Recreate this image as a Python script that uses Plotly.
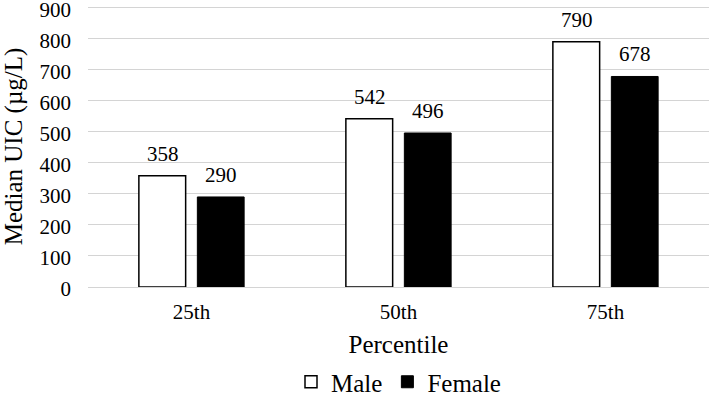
import plotly.graph_objects as go

categories = ["25th", "50th", "75th"]
male = [358, 542, 790]
female = [290, 496, 678]
y_ticks = [0, 100, 200, 300, 400, 500, 600, 700, 800, 900]

FONT = "Liberation Serif"

fig = go.Figure()
fig.add_trace(go.Bar(
    x=categories, y=male, name="Male",
    marker=dict(color="white", line=dict(color="black", width=1.5)),
))
fig.add_trace(go.Bar(
    x=categories, y=female, name="Female",
    marker=dict(color="black", line=dict(color="black", width=1)),
))

# value labels above bars
for series, shift in ((male, -29), (female, 29)):
    for c, v in zip(categories, series):
        fig.add_annotation(x=c, y=v, xref="x", yref="y", text=str(v), showarrow=False,
                           xshift=shift, yshift=8, yanchor="bottom",
                           font=dict(family=FONT, size=21, color="black"))

fig.update_layout(
    width=709, height=405,
    margin=dict(l=88, r=0, t=5.5, b=118, autoexpand=False),
    paper_bgcolor="white", plot_bgcolor="white",
    font=dict(family=FONT, size=21, color="black"),
    barmode="group", bargap=0.435, bargroupgap=0.2,
    showlegend=True,
    legend=dict(orientation="h", x=0.5, xanchor="center", yref="container", y=0, yanchor="bottom",
                font=dict(family=FONT, size=25, color="black"),
                itemwidth=30, tracegroupgap=0, traceorder="normal"),
)
fig.update_xaxes(
    showgrid=False, showline=False, ticks="", ticklabelstandoff=10, automargin=False,
    tickfont=dict(family=FONT, size=21, color="black"),
    title=dict(text="Percentile", font=dict(family=FONT, size=25, color="black"), standoff=12),
)
fig.update_yaxes(
    range=[0, 905], tickvals=y_ticks, showgrid=True, gridcolor="#d4d4d4", gridwidth=1.3,
    zeroline=True, zerolinecolor="#d4d4d4", zerolinewidth=1.3, automargin=False,
    showline=False, ticks="", ticklabelstandoff=16, ticklabeloverflow="allow", ticklabelshift=2,
    tickfont=dict(family=FONT, size=21, color="black"),
    title=dict(text="Median UIC (µg/L)", font=dict(family=FONT, size=25, color="black"), standoff=17),
)

fig.write_html("out.html", config={"displayModeBar": False},
               post_script="document.body.style.margin='0';")
